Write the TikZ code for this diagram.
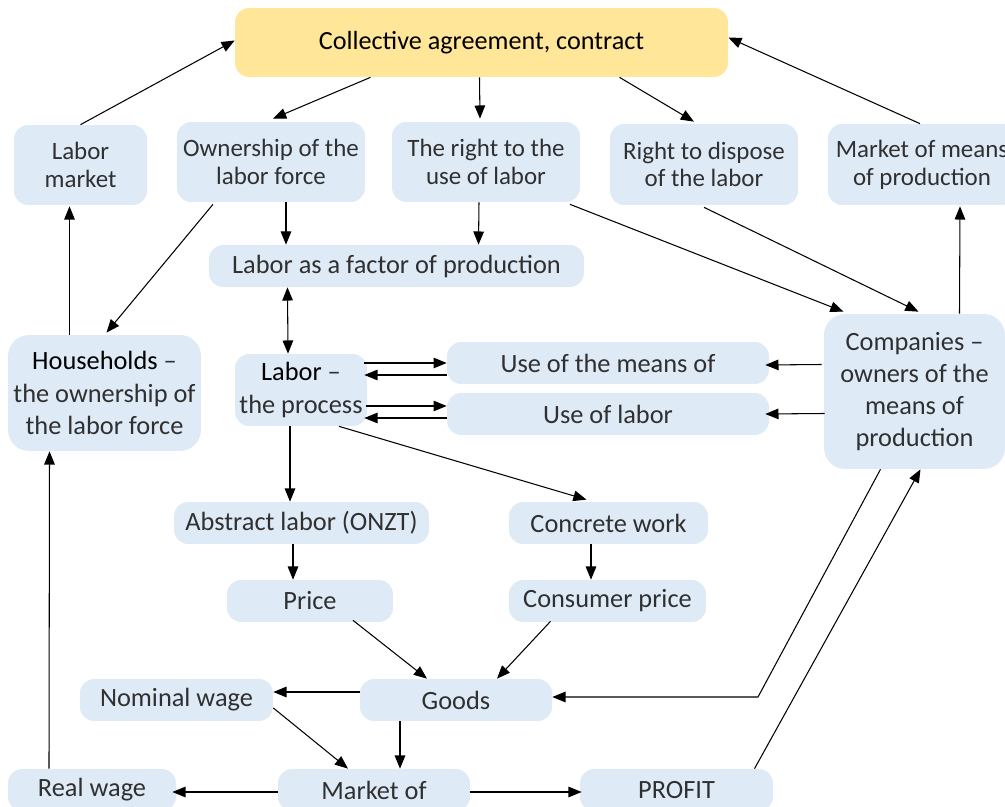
\documentclass[tikz,border=0pt]{standalone}
\usepackage{fontspec}
\setmainfont{Carlito}
\usepackage{tikz}
\usetikzlibrary{arrows.meta,calc}

\definecolor{boxblue}{HTML}{DEEAF6}
\definecolor{boxgold}{HTML}{FFE699}
\definecolor{textgray}{HTML}{303030}

\tikzset{
  box/.style={fill=boxblue, rounded corners=8pt, inner sep=0pt, align=center,
    text=textgray, font=\fontsize{15}{18.3}\selectfont},
  topbox/.style={box, font=\fontsize{14.2}{15.8}\selectfont},
  bigbox/.style={box, rounded corners=12pt},
  keybox/.style={box, fill=boxgold, text=black, font=\fontsize{14.9}{18}\selectfont},
  link/.style={->, line width=0.6pt},
  >={Triangle[length=7.5pt,width=6pt]}
}

\begin{document}
\begin{tikzpicture}[x=0.02cm, y=-0.02cm]
    \useasboundingbox (0,0) rectangle (1005,807);

    % top row
    \node[keybox, minimum width=9.86cm, minimum height=1.38cm] (coll) at (481.5,42.5) {Collective agreement, contract};
    \node[topbox, minimum width=2.66cm, minimum height=1.6cm] (lmkt) at (80.5,165) {Labor\\market};
    \node[topbox, minimum width=3.76cm, minimum height=1.6cm] (own) at (271,162) {Ownership of the\\labor force};
    \node[topbox, minimum width=3.76cm, minimum height=1.6cm] (right) at (486,162) {The right to the\\use of labor};
    \node[topbox, minimum width=3.76cm, minimum height=1.62cm] (disp) at (704,164.5) {Right to dispose\\of the labor};
    \node[topbox, minimum width=3.76cm, minimum height=1.62cm] (mmp) at (922,164.5) {Market of means\\of production};

    % middle
    \node[box, minimum width=7.5cm, minimum height=0.84cm] (lfac) at (396.5,266) {Labor as a factor of production};
    \node[bigbox, minimum width=3.86cm, minimum height=2.32cm] (hh) at (104.5,393) {{\color{black}Households} --\\the ownership of\\the labor force};
    \node[box, minimum width=2.64cm, minimum height=1.44cm] (lab) at (301,390) {{\color{black}Labor} --\\the process};
    \node[box, minimum width=6.44cm, minimum height=0.84cm] (usem) at (608,363) {Use of the means of};
    \node[box, minimum width=6.44cm, minimum height=0.84cm] (usel) at (608,414) {Use of labor};
    \node[bigbox, minimum width=3.62cm, minimum height=3.1cm] (comp) at (914.5,391.5) {Companies --\\owners of the\\means of\\production};

    \node[box, minimum width=5.1cm, minimum height=0.84cm] (abs) at (301.5,523) {Abstract labor (ONZT)};
    \node[box, minimum width=3.98cm, minimum height=0.84cm] (conc) at (608.5,523) {Concrete work};
    \node[box, minimum width=3.32cm, minimum height=0.84cm] (price) at (310,601) {Price};
    \node[box, minimum width=3.94cm, minimum height=0.84cm] (cons) at (607.5,601) {Consumer price};

    % bottom
    \node[box, minimum width=3.84cm, minimum height=0.84cm] (goods) at (456,700) {Goods};
    \node[box, minimum width=3.86cm, minimum height=0.84cm] (nom) at (176.5,700) {Nominal wage};
    \node[box, minimum width=3.36cm, minimum height=0.84cm] (real) at (92,790) {Real wage};
    \node[box, minimum width=3.84cm, minimum height=0.84cm] (mkt) at (374,790) {Market of};
    \node[box, minimum width=3.86cm, minimum height=0.84cm] (profit) at (676.5,790) {PROFIT};
    \coordinate (bend) at (758,697);

    \draw[link] (lmkt.north) -- ($(coll.west)+(0,-2)$);
    \draw[link] ($(coll.south)+(-111,0)$) -- ($(own.north)+(2,-3)$);
    \draw[link] ($(coll.south)+(-2,0)$) -- ($(right.north)+(-6,-3)$);
    \draw[link] ($(coll.south)+(138,0)$) -- ($(disp.north)+(-10,-2)$);
    \draw[link] ($(mmp.north)+(-2,0)$) -- ($(coll.east)+(0,-5)$);

    \draw[link] ($(own.south)+(15,0)$) -- ($(lfac.north)+(-110.5,0)$);
    \draw[link] ($(right.south)+(-7,0)$) -- ($(lfac.north)+(82,0)$);
    \draw[link] ($(own.south)+(-58,2)$) -- ($(hh.north)+(2,-2)$);
    \draw[link] ($(right.south)+(84,2)$) -- ($(comp.north)+(-71,-2)$);
    \draw[link] ($(disp.south)+(0,2)$) -- ($(comp.north)+(4,-2)$);
    \draw[link] ($(comp.north)+(45,0)$) -- ($(mmp.south)+(38,1)$);
    \draw[link] ($(hh.north)+(-35,0)$) -- ($(lmkt.south)+(-11,1)$);

    \draw[link, <->] ($(lfac.south)+(-109,0)$) -- ($(lab.north)+(-13,0)$);
    \draw[link] ($(lab.east)+(-3,-27)$) -- ($(usem.west)+(0,0)$);
    \draw[link] ($(usem.west)+(0,12)$) -- ($(lab.east)+(-3,-15)$);
    \draw[link] ($(lab.east)+(-1,16)$) -- ($(usel.west)+(0,-8)$);
    \draw[link] ($(usel.west)+(0,4)$) -- ($(lab.east)+(-3,28)$);
    \draw[link] ($(comp.west)+(-2,-27)$) -- ($(usem.east)+(-4,2)$);
    \draw[link] ($(comp.west)+(1,22)$) -- ($(usel.east)+(-4,0)$);

    \draw[link] ($(lab.south)+(-11,0)$) -- ($(abs.north)+(-11.5,0)$);
    \draw[link] ($(lab.south)+(38,0)$) -- ($(conc.north)+(-22,-2)$);
    \draw[link] ($(abs.south)+(-8.5,0)$) -- ($(price.north)+(-17,0)$);
    \draw[link] ($(conc.south)+(-17.5,0)$) -- ($(cons.north)+(-16.5,0)$);
    \draw[link] ($(price.south)+(43,-2)$) -- ($(goods.north)+(-29,0)$);
    \draw[link] ($(cons.south)+(-57,-1)$) -- ($(goods.north)+(41,0)$);

    \draw[link] ($(goods.west)+(0,-8)$) -- ($(nom.east)+(0,-8)$);
    \draw[link] ($(comp.south)+(-34,0)$) -- (bend) -- ($(goods.east)+(0,-3)$);
    \draw[link] ($(profit.north)+(78,0)$) -- ($(comp.south)+(6,0)$);
    \draw[link] ($(nom.east)+(0,8)$) -- ($(mkt.north)+(-26,0)$);
    \draw[link] ($(goods.south)+(-56,0)$) -- ($(mkt.north)+(26,0)$);
    \draw[link] ($(mkt.west)+(0,2)$) -- ($(real.east)+(-4,2)$);
    \draw[link] ($(mkt.east)+(0,2)$) -- ($(profit.west)+(2,2)$);
    \draw[link] ($(real.north)+(-43,0)$) -- ($(hh.south)+(-55,0)$);
\end{tikzpicture}
\end{document}
